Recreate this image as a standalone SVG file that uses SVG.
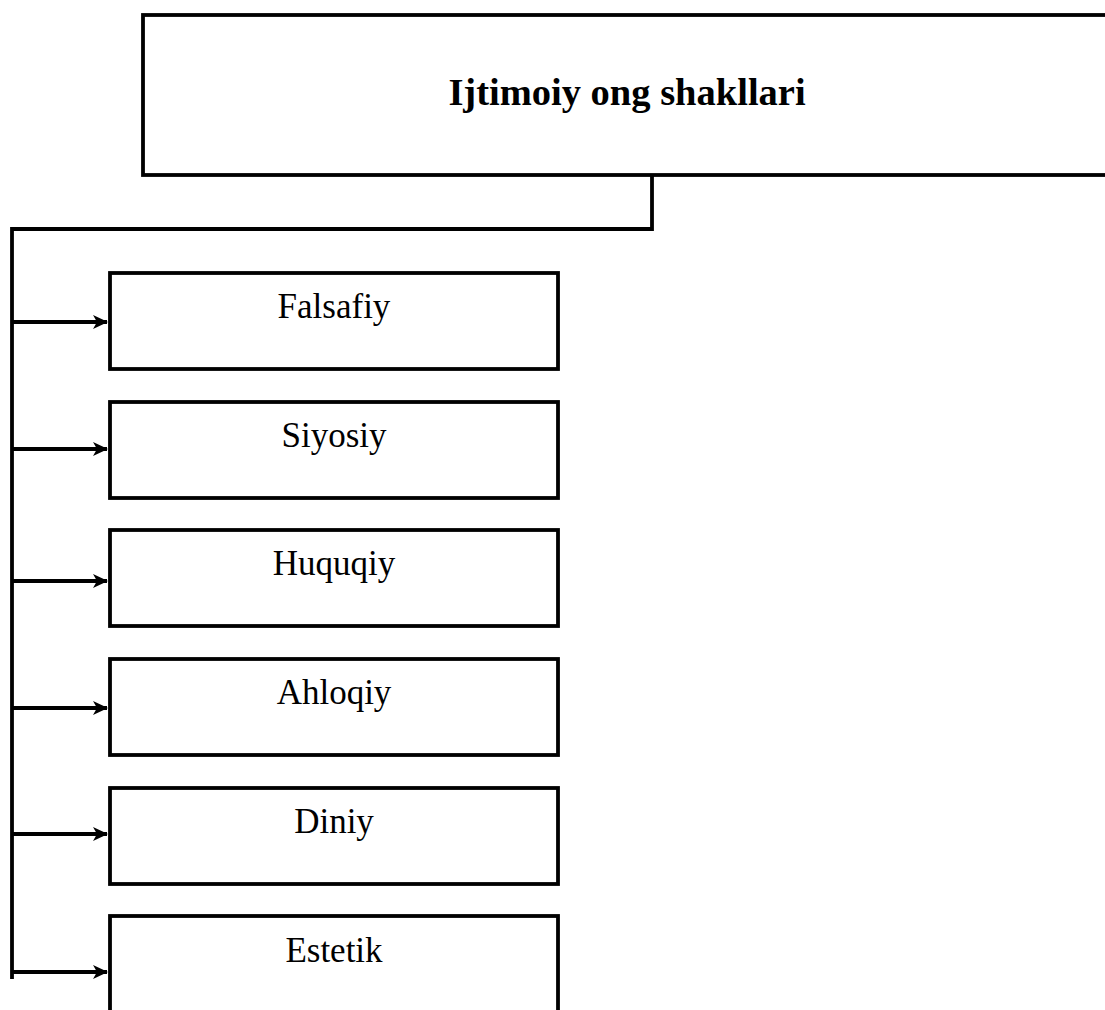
<svg xmlns="http://www.w3.org/2000/svg" width="1105" height="1010" viewBox="0 0 1105 1010">
<defs>
<style>
.box{fill:#fff;stroke:#000;stroke-width:3.8}
.lbl{font-family:"Liberation Serif","Times New Roman",serif;font-size:35px;fill:#000;text-anchor:middle}
.title{font-family:"Liberation Serif","Times New Roman",serif;font-size:38.5px;font-weight:bold;fill:#000;text-anchor:middle}
.ln{fill:none;stroke:#000;stroke-width:3.8}
</style>
<marker id="ah" viewBox="0 0 15 14" refX="14" refY="7" markerWidth="15" markerHeight="14" orient="auto" markerUnits="userSpaceOnUse">
<path d="M0,0 L15,7 L0,14 L4,7 Z" fill="#000"/>
</marker>
</defs>
<rect width="1105" height="1010" fill="#fff"/>
<g id="title">
<rect class="box" x="143" y="15" width="975" height="160"/>
<text class="title" x="627" y="105">Ijtimoiy ong shakllari</text>
</g>
<g id="connectors">
<polyline class="ln" points="652,175 652,229 12,229 12,979"/>
<line class="ln" x1="12" y1="322" x2="107" y2="322" marker-end="url(#ah)"/>
<line class="ln" x1="12" y1="449" x2="107" y2="449" marker-end="url(#ah)"/>
<line class="ln" x1="12" y1="581" x2="107" y2="581" marker-end="url(#ah)"/>
<line class="ln" x1="12" y1="708" x2="107" y2="708" marker-end="url(#ah)"/>
<line class="ln" x1="12" y1="834" x2="107" y2="834" marker-end="url(#ah)"/>
<line class="ln" x1="12" y1="972" x2="107" y2="972" marker-end="url(#ah)"/>
</g>
<g id="falsafiy">
<rect class="box" x="110" y="273" width="448" height="96"/>
<text class="lbl" x="334" y="318">Falsafiy</text>
</g>
<g id="siyosiy">
<rect class="box" x="110" y="402" width="448" height="96"/>
<text class="lbl" x="334" y="447">Siyosiy</text>
</g>
<g id="huquqiy">
<rect class="box" x="110" y="530" width="448" height="96"/>
<text class="lbl" x="334" y="575">Huquqiy</text>
</g>
<g id="ahloqiy">
<rect class="box" x="110" y="659" width="448" height="96"/>
<text class="lbl" x="334" y="704">Ahloqiy</text>
</g>
<g id="diniy">
<rect class="box" x="110" y="788" width="448" height="96"/>
<text class="lbl" x="334" y="833">Diniy</text>
</g>
<g id="estetik">
<rect class="box" x="110" y="916" width="448" height="120"/>
<text class="lbl" x="334" y="962">Estetik</text>
</g>
</svg>
